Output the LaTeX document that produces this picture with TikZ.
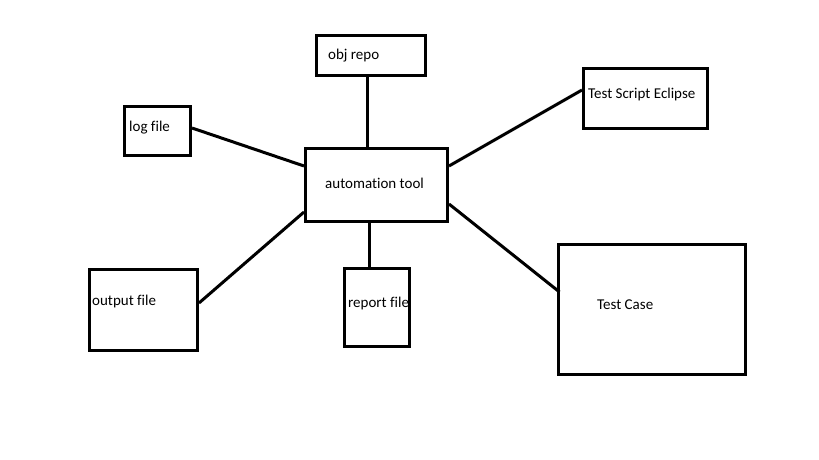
\documentclass[tikz,border=0pt]{standalone}
\usepackage{fontspec}
\setmainfont[Ligatures=NoCommon,RawFeature={-liga;-dlig}]{Carlito}
\begin{document}
\begin{tikzpicture}[x=1pt,y=-1pt,
  box/.style={draw=black,line width=3pt,inner sep=0pt,rectangle},
  lbl/.style={anchor=west,inner sep=0pt,font=\fontsize{15pt}{18pt}\selectfont},
  link/.style={draw=black,line width=3pt}]
\useasboundingbox[fill=white] (0,0) rectangle (819,460);
% boxes
\node[box,minimum width=109pt,minimum height=40pt] (obj) at (371,55.5) {};
\node[box,minimum width=66pt,minimum height=49pt] (log) at (157.5,131) {};
\node[box,minimum width=142pt,minimum height=73pt] (auto) at (376.5,185) {};
\node[box,minimum width=124pt,minimum height=60pt] (ts) at (645.5,98.5) {};
\node[box,minimum width=187pt,minimum height=130pt] (tc) at (652,309.5) {};
\node[box,minimum width=108pt,minimum height=81pt] (out) at (143.5,310) {};
\node[box,minimum width=65pt,minimum height=78pt] (rep) at (377,307.5) {};
% labels
\node[lbl] (objt) at (328,56) {obj repo};
\node[lbl] (logt) at (129,128) {log file};
\node[lbl] (autot) at (325,183) {automation tool};
\node[lbl] (tst) at (588,95) {Test Script Eclipse};
\node[lbl] (tct) at (597,305) {Test Case};
\node[lbl] (outt) at (92,301) {output file};
\node[lbl] (rept) at (348,303) {report file};
% connectors
\draw[link] ([xshift=-4pt]obj.south) -- ([xshift=-4pt]obj.south |- auto.north);
\draw[link] ([yshift=3pt]log.east) -- ([yshift=19pt]auto.west);
\draw[link] ([yshift=8.5pt]ts.west) -- ([yshift=19pt]auto.east);
\draw[link] ([yshift=-19pt]auto.east) -- ([yshift=17.5pt,xshift=2.5pt]tc.west);
\draw[link] ([yshift=7pt]out.east) -- ([yshift=-27pt]auto.west);
\draw[link] ([xshift=-7.5pt]auto.south) -- ([xshift=-7.5pt]auto.south |- rep.north);
\end{tikzpicture}
\end{document}
